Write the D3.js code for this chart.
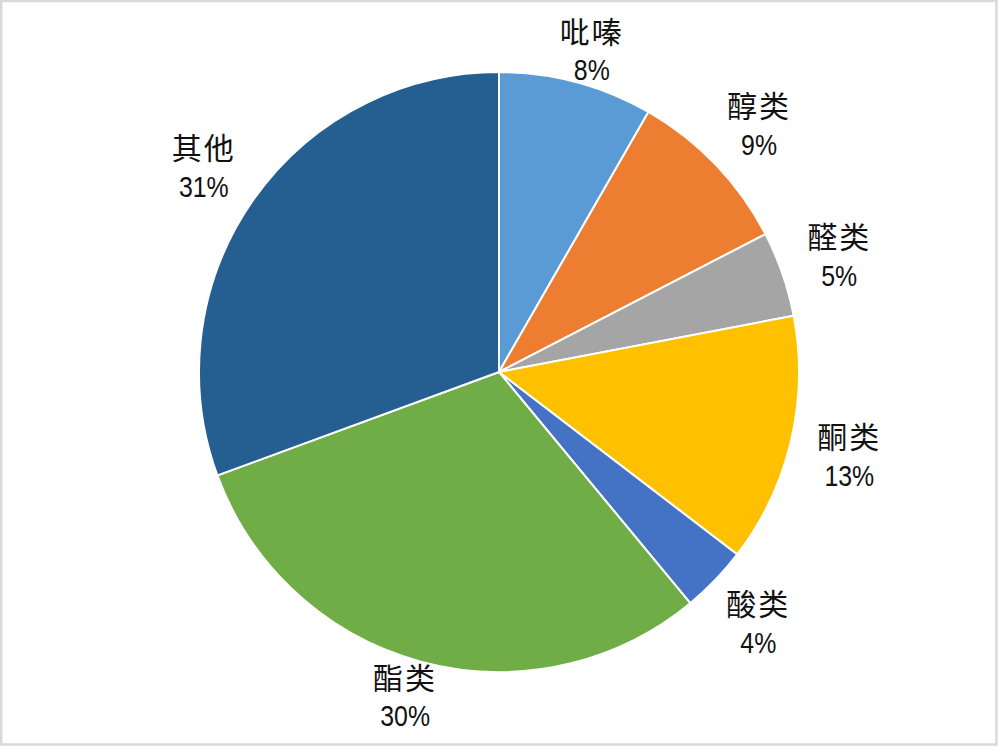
<!DOCTYPE html>
<html>
<head>
<meta charset="utf-8">
<script src="https://cdn.jsdelivr.net/npm/d3@7/dist/d3.min.js"></script>
<style>
  body { margin: 0; background: #fff; }
</style>
</head>
<body>
<div id="main"></div>
<script>
var categories = ["吡嗪", "醇类", "醛类", "酮类", "酸类", "酯类", "其他"];
var values = [8.3, 9.1, 4.6, 13.4, 3.6, 30.4, 30.6];
var colors = ["#5b9bd5", "#ed7d31", "#a5a5a5", "#ffc000", "#4472c4", "#70ad47", "#255e91"];

var width = 1000, height = 746;
var cx = 499, cy = 372, radius = 300;

var svg = d3.select("#main")
        .append("svg")
        .attr("width", width)
        .attr("height", height);

// chart area border
svg.append("rect")
    .attr("x", 1.2)
    .attr("y", 1)
    .attr("width", 995.3)
    .attr("height", 743.5)
    .attr("fill", "#fff")
    .attr("stroke", "#d9d9d9")
    .attr("stroke-width", 2.5);

var data = categories.map(function(c, i) {
    return { name: c, value: values[i], color: colors[i] };
});
var total = d3.sum(values);

var pie = d3.pie()
        .sort(null)
        .value(function(d) { return d.value; });

var arc = d3.arc()
        .innerRadius(0)
        .outerRadius(radius);

var g = svg.append("g")
        .attr("transform", "translate(" + cx + "," + cy + ")");

var arcs = pie(data);

g.selectAll("path")
    .data(arcs)
    .enter()
    .append("path")
    .attr("d", arc)
    .attr("fill", function(d) { return d.data.color; })
    .attr("stroke", "#fff")
    .attr("stroke-width", 2);

// labels sit outside the pie, kept inside the chart area vertically
var labelRadius = 360, maxDy = 323;
function labelPos(d) {
    var a = (d.startAngle + d.endAngle) / 2;
    var x = labelRadius * Math.sin(a);
    var y = -labelRadius * Math.cos(a);
    y = Math.max(-maxDy, Math.min(maxDy, y));
    return [x, y];
}

var labels = g.selectAll("g.label")
        .data(arcs)
        .enter()
        .append("g")
        .attr("class", "label")
        .attr("transform", function(d) {
            var p = labelPos(d);
            return "translate(" + p[0] + "," + p[1] + ")";
        });

labels.append("text")
    .attr("text-anchor", "middle")
    .attr("y", -6.5)
    .attr("font-family", "'Noto Sans CJK SC', sans-serif")
    .attr("font-size", 30)
    .attr("letter-spacing", 2)
    .attr("fill", "#111")
    .text(function(d) { return d.data.name; });

// percentages use a narrow face; squeeze the regular one to match
labels.append("text")
    .attr("text-anchor", "middle")
    .attr("transform", "scale(0.83,1)")
    .attr("y", 31.5)
    .attr("font-family", "'Liberation Sans', Arial, sans-serif")
    .attr("font-size", 30)
    .attr("fill", "#111")
    .text(function(d) { return Math.round(d.data.value / total * 100) + "%"; });
</script>
</body>
</html>
